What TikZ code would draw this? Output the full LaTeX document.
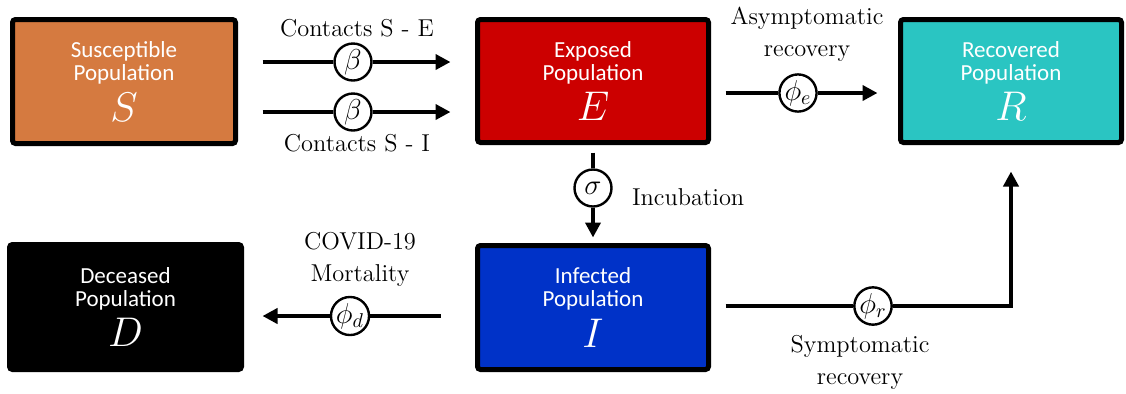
\documentclass[tikz,border=0pt]{standalone}
\usepackage{fontspec}
\newfontfamily\boxfont{Carlito}
\usetikzlibrary{arrows.meta}
\definecolor{suscol}{RGB}{213,122,64}
\definecolor{expcol}{RGB}{204,0,0}
\definecolor{reccol}{RGB}{42,197,194}
\definecolor{infcol}{RGB}{0,50,200}
\newcommand{\popsym}[1]{{\huge$#1$}}
\tikzset{
  pop/.style={draw=black, line width=2.5pt, rounded corners=1.5pt, inner sep=0pt,
    text=white, align=center, font=\boxfont\fontsize{11.5}{11.5}\selectfont},
  rate/.style={circle, draw=black, line width=1.2pt, fill=white,
    minimum size=18.5pt, inner sep=0pt, font=\Large},
  flow/.style={line width=2.2pt},
  arr/.style={-{Triangle[length=7.5pt,width=7.5pt]}},
  lbl/.style={align=center, font=\fontsize{12.2}{16}\selectfont},
}
\begin{document}
\begin{tikzpicture}[x=0.5pt, y=-0.5pt]
  \useasboundingbox (0,0) rectangle (1126,393);

  % compartments
  \node[pop, fill=suscol, minimum width=111.5pt, minimum height=62pt] (S) at (124,81.5)
    {Susceptible\\Population\\[3pt]\popsym{S}};
  \node[pop, fill=expcol, minimum width=115.5pt, minimum height=61.5pt] (E) at (593,81)
    {Exposed\\Population\\[3pt]\popsym{E}};
  \node[pop, fill=reccol, minimum width=110.5pt, minimum height=61.5pt] (R) at (1011,81)
    {Recovered\\Population\\[3pt]\popsym{R}};
  \node[pop, fill=black, minimum width=116pt, minimum height=62.5pt] (D) at (125.5,307)
    {Deceased\\Population\\[3pt]\popsym{D}};
  \node[pop, fill=infcol, minimum width=115.5pt, minimum height=62pt] (I) at (593,307.5)
    {Infected\\Population\\[3pt]\popsym{I}};

  % rates
  \node[rate] (b1) at (353,62) {$\beta$};
  \node[rate] (b2) at (353,112) {$\beta$};
  \node[rate] (sg) at (593,188) {$\sigma$};
  \node[rate] (pe) at (798,93) {$\phi_e$};
  \node[rate] (pd) at (350,316) {$\phi_d$};
  \node[rate] (pr) at (873,306) {$\phi_r$};

  % flows
  \draw[flow, shorten <=12.25pt] (S.east |- b1) -- (b1);
  \draw[flow, arr, shorten >=12.25pt] (b1) -- (E.west |- b1);
  \draw[flow, shorten <=12.25pt] (S.east |- b2) -- (b2);
  \draw[flow, arr, shorten >=12.25pt] (b2) -- (E.west |- b2);
  \draw[flow, shorten <=3.75pt] (E.south) -- (sg);
  \draw[flow, arr, shorten >=2.75pt] (sg) -- (I.north);
  \draw[flow, shorten <=7.25pt] (E.east |- pe) -- (pe);
  \draw[flow, arr, shorten >=10.25pt] (pe) -- (R.west |- pe);
  \draw[flow, shorten <=17.25pt] (I.west |- pd) -- (pd);
  \draw[flow, arr, shorten >=9.25pt] (pd) -- (D.east |- pd);
  \draw[flow, shorten <=7.25pt] (I.east |- pr) -- (pr);
  \draw[flow, arr, shorten >=13.25pt] (pr) -| (R.south);

  % labels
  \node[lbl] (cse) at (357,28) {Contacts S - E};
  \node[lbl] (csi) at (357,143) {Contacts S - I};
  \node[lbl] (asy) at (807,34) {Asymptomatic\\recovery};
  \node[lbl, anchor=west] (inc) at (625,197) {Incubation};
  \node[lbl] (mor) at (360,259) {COVID-19\\Mortality};
  \node[lbl] (sym) at (860,362) {Symptomatic\\recovery};
\end{tikzpicture}
\end{document}
